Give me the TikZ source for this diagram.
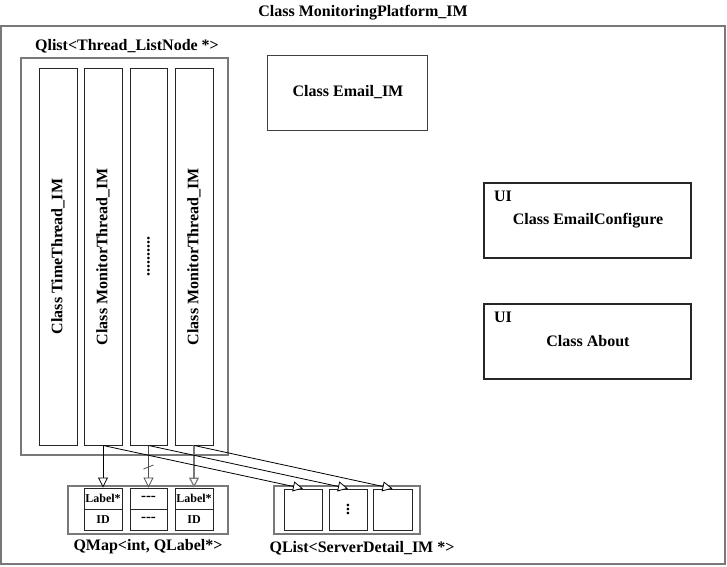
\documentclass[tikz,border=0pt]{standalone}
\usepackage{fontspec}
\setmainfont{Liberation Serif}
\usetikzlibrary{arrows.meta,calc}
\definecolor{frame}{RGB}{120,120,120}
\begin{document}
\begin{tikzpicture}[x=1pt,y=-1pt,
  every node/.style={font=\fontsize{16}{18}\selectfont\bfseries, inner sep=0pt},
  smallfont/.style={font=\fontsize{12}{14}\selectfont\bfseries},
  dashfont/.style={font=\fontsize{15}{16}\selectfont\bfseries},
  graybox/.style={draw=frame, line width=1.6pt},
  blackbox/.style={draw=black!85, line width=0.9pt},
  tri/.style={-{Triangle[length=10pt,width=10pt,fill=white]}, line width=0.8pt},
]
\useasboundingbox (0,0) rectangle (727,566);

% outer frame and title
\node[graybox, minimum width=724pt, minimum height=538pt] (outer) at (363,295) {};
\node (title) at (363,13) {Class MonitoringPlatform\_IM};

% Qlist container
\node[graybox, line width=1.2pt, minimum width=207pt, minimum height=397pt] (qlist) at (124.5,256.5) {};
\node (qlistlbl) at (127,46) {Qlist<Thread\_ListNode *>};

% thread columns
\node[blackbox, minimum width=38pt, minimum height=377pt] (col1) at (58,256.5) {};
\node[blackbox, minimum width=38pt, minimum height=377pt] (col2) at (103,256.5) {};
\node[blackbox, minimum width=37pt, minimum height=377pt] (col3) at (148.5,256.5) {};
\node[blackbox, minimum width=38pt, minimum height=377pt] (col4) at (194,256.5) {};
\node[rotate=90] (t1) at (col1) {Class TimeThread\_IM};
\node[rotate=90] (t2) at (col2) {Class MonitorThread\_IM};
\node[rotate=90] (t3) at (col3) {..........};
\node[rotate=90] (t4) at (col4) {Class MonitorThread\_IM};

% Email
\node[draw=black!75, line width=1pt, minimum width=160pt, minimum height=75pt] (email) at (347,92.5) {};
\node (emailtxt) at (348,92) {Class Email\_IM};

% EmailConfigure
\node[draw=black!85, line width=1.1pt, minimum width=207pt, minimum height=75pt] (conf) at (587.5,220.5) {};
\node (confui) at (503,196) {UI};
\node (conftxt) at (588,221) {Class EmailConfigure};

% About
\node[draw=black!85, line width=1.1pt, minimum width=207pt, minimum height=75pt] (about) at (587.5,341.5) {};
\node (aboutui) at (503,317) {UI};
\node (abouttxt) at (588,341) {Class About};

% QMap
\node[graybox, minimum width=160pt, minimum height=48pt] (qmap) at (148,510) {};
\node[blackbox, smallfont, minimum width=38pt, minimum height=21pt] (m1a) at (103,498.5) {Label*};
\node[blackbox, smallfont, minimum width=38pt, minimum height=21pt] (m1b) at (103,519.5) {ID};
\node[blackbox, dashfont, minimum width=37pt, minimum height=21pt] (m2a) at (148.5,498.5) {-\kern0pt-\kern0pt-};
\node[blackbox, dashfont, minimum width=37pt, minimum height=21pt] (m2b) at (148.5,519.5) {-\kern0pt-\kern0pt-};
\node[blackbox, smallfont, minimum width=38pt, minimum height=21pt] (m3a) at (194,498.5) {Label*};
\node[blackbox, smallfont, minimum width=38pt, minimum height=21pt] (m3b) at (194,519.5) {ID};
\node (qmaplbl) at (148,547) {QMap<int, QLabel*>};

% QList of servers
\node[graybox, minimum width=146pt, minimum height=48pt] (slist) at (347,510) {};
\node[blackbox, minimum width=38pt, minimum height=41pt] (s1) at (303,509.5) {};
\node[blackbox, minimum width=38pt, minimum height=41pt] (s2) at (348,509.5) {};
\node[blackbox, minimum width=39pt, minimum height=41pt] (s3) at (392.5,509.5) {};
\node[rotate=90] (sdots) at (s2) {...};
\node (slistlbl) at (362,548) {QList<ServerDetail\_IM *>};

% connectors
\draw[tri, black] (col2.south) -- (m1a.north);
\draw[tri, black!70] (col3.south) -- (m2a.north);
\draw[tri, frame, line width=1.2pt] (col4.south) -- (m3a.north);
\coordinate (slash) at (148.5,467);
\draw[black!70, line width=0.8pt] ($(slash)+(-5,2)$) -- ($(slash)+(5,-2)$);

\draw[tri, black] (col2.south) -- (s1.north);
\draw[tri, black] (col3.south) -- (s2.north);
\draw[tri, black] (col4.south) -- (s3.north);
\end{tikzpicture}
\end{document}
